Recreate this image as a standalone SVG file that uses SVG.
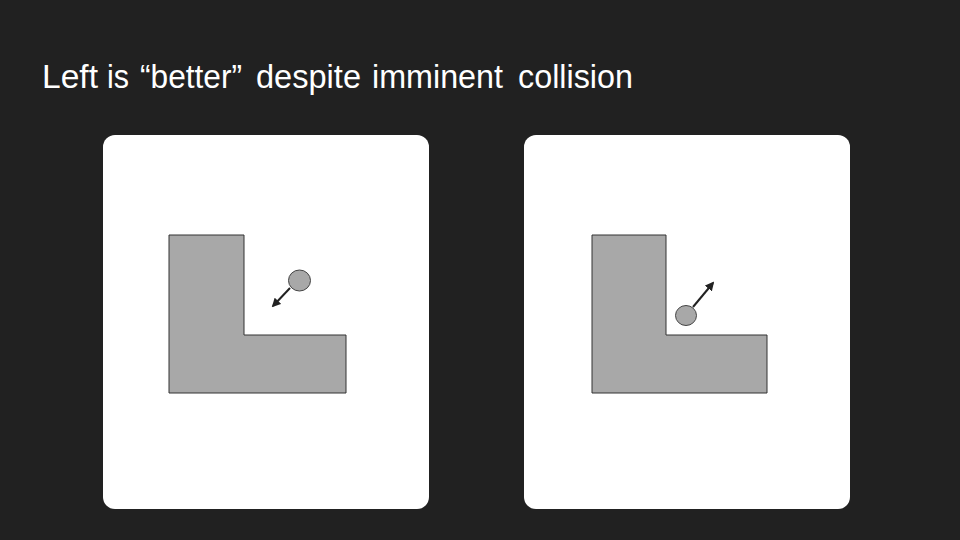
<svg xmlns="http://www.w3.org/2000/svg" width="960" height="540" viewBox="0 0 960 540">
<style>
.panel{fill:#ffffff}
.wall{fill:#a8a8a8;stroke:#333333;stroke-width:1}
.ball{fill:#a8a8a8;stroke:#444444;stroke-width:1}
.arrow{stroke:#222222;stroke-width:2;fill:none;marker-end:url(#ah)}
.title{font-family:"Liberation Sans",Arial,sans-serif;font-size:33px;fill:#ffffff}
</style>
<defs>
<marker id="ah" viewBox="0 0 10 10" refX="8" refY="5" markerWidth="4.5" markerHeight="4.5" orient="auto" markerUnits="strokeWidth">
<path d="M0,0 L10,5 L0,10 z" fill="#222222"/>
</marker>
</defs>
<rect width="960" height="540" fill="#212121"/>
<text class="title" y="88"><tspan x="42" textLength="56" lengthAdjust="spacingAndGlyphs">Left</tspan> <tspan x="107" textLength="22" lengthAdjust="spacingAndGlyphs">is</tspan> <tspan x="140" textLength="102" lengthAdjust="spacingAndGlyphs">“better”</tspan> <tspan x="256" textLength="105" lengthAdjust="spacingAndGlyphs">despite</tspan> <tspan x="372" textLength="131" lengthAdjust="spacingAndGlyphs">imminent</tspan> <tspan x="518" textLength="115" lengthAdjust="spacingAndGlyphs">collision</tspan></text>
<g id="left-panel">
<rect class="panel" x="103" y="135" width="326" height="374" rx="12"/>
<polygon class="wall" points="169,235 244,235 244,335 346,335 346,393 169,393"/>
<ellipse class="ball" cx="299.5" cy="280.5" rx="11" ry="10.5"/>
</g>
<g id="right-panel">
<rect class="panel" x="524" y="135" width="326" height="374" rx="12"/>
<polygon class="wall" points="592,235 666,235 666,335 767,335 767,393 592,393"/>
<ellipse class="ball" cx="686" cy="315.5" rx="10.5" ry="10"/>
</g>
<g id="connectors">
<line class="arrow" x1="290" y1="288" x2="273" y2="306"/>
<line class="arrow" x1="693" y1="307" x2="713" y2="283"/>
</g>
</svg>
